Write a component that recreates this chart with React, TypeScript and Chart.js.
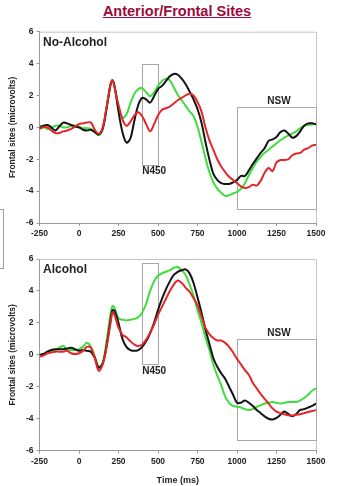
import React, { useEffect, useRef } from "react";
import { Chart, registerables } from "chart.js";

Chart.register(...registerables);

// ---- data ----
const timesMs = [
  -250, -225, -200, -175, -150, -125, -100, -75, -50, -25, 0, 25, 50, 75, 100, 125, 150, 175, 200, 212,
  225, 250, 275, 300, 325, 350, 375, 400, 425, 450, 475, 500, 525, 550, 575, 600, 625, 650, 675, 700,
  725, 750, 775, 800, 825, 850, 875, 900, 925, 950, 975, 1000, 1025, 1050, 1075, 1100, 1125, 1150, 1175, 1200,
  1225, 1250, 1275, 1300, 1325, 1350, 1375, 1400, 1425, 1450, 1475, 1500,
];

const noAlcoholBlack = [
  -0.05, 0.1, 0.15, 0.0, -0.2, 0.05, 0.3, 0.25, 0.15, 0.05, 0.0, -0.15, -0.2, -0.15, -0.3, -0.45, -0.1, 1.2, 2.7, 2.95,
  2.6, 1.0, -0.3, -0.95, -0.7, 0.4, 1.4, 1.85, 1.75, 1.55, 1.95, 2.4, 2.6, 2.9, 3.2, 3.35, 3.3, 3.05, 2.7, 2.25,
  1.75, 1.15, 0.3, -0.9, -2.0, -2.9, -3.3, -3.5, -3.55, -3.55, -3.45, -3.3, -3.05, -3.05, -2.7, -2.3, -1.95, -1.6, -1.3, -0.85,
  -0.75, -0.6, -0.3, -0.2, -0.4, -0.65, -0.55, -0.25, 0.1, 0.25, 0.25, 0.2,
];
const noAlcoholGreen = [
  0.1, 0.05, -0.1, -0.05, 0.1, 0.1, 0.0, 0.0, 0.1, 0.1, 0.05, -0.05, -0.05, -0.1, -0.3, -0.5, -0.05, 1.3, 2.7, 2.95,
  2.5, 1.3, 0.6, 0.8, 1.5, 2.1, 2.4, 2.45, 2.2, 1.95, 2.2, 2.6, 2.9, 3.05, 2.95, 2.5, 2.05, 1.7, 1.35, 1.0,
  0.7, 0.05, -0.9, -1.9, -2.8, -3.45, -3.85, -4.1, -4.3, -4.25, -4.15, -4.05, -3.85, -3.5, -3.0, -2.55, -2.15, -1.85, -1.6, -1.4,
  -1.2, -1.0, -0.8, -0.65, -0.5, -0.4, -0.25, -0.05, 0.1, 0.15, 0.2, 0.2,
];
const noAlcoholRed = [
  -0.1, 0.0, 0.0, -0.2, -0.35, -0.35, -0.25, -0.2, -0.1, 0.05, 0.2, 0.25, 0.3, 0.3, -0.15, -0.4, 0.0, 1.3, 2.7, 2.95,
  2.5, 1.4, 0.5, 0.1, 0.35, 0.75, 0.95, 0.7, 0.2, -0.25, 0.2, 0.75, 1.1, 1.2, 1.3, 1.5, 1.7, 1.85, 2.0, 2.1,
  2.0, 1.6, 1.0, 0.0, -0.8, -1.4, -2.0, -2.45, -2.8, -3.1, -3.3, -3.5, -3.7, -3.8, -3.75, -3.6, -3.65, -3.35, -2.85, -2.55,
  -2.75, -2.2, -2.05, -2.05, -2.0, -1.75, -1.65, -1.6, -1.4, -1.3, -1.15, -1.1,
];

const alcoholBlack = [
  0.0, 0.05, 0.2, 0.3, 0.35, 0.35, 0.35, 0.4, 0.45, 0.35, 0.25, 0.3, 0.25, 0.2, -0.2, -0.8, -0.55, 0.6, 2.2, 2.8,
  2.75, 2.0, 1.0, 0.5, 0.3, 0.25, 0.3, 0.5, 0.85, 1.35, 2.0, 2.8, 3.5, 4.1, 4.6, 5.0, 5.2, 5.3, 5.35, 5.1,
  4.5, 3.6, 2.65, 1.6, 0.7, -0.2, -0.75, -1.15, -1.5, -2.0, -2.5, -3.0, -3.0, -2.85, -3.0, -3.2, -3.45, -3.65, -3.85, -4.0,
  -4.05, -3.95, -3.75, -3.55, -3.7, -3.85, -3.7, -3.45, -3.4, -3.3, -3.2, -3.05,
];
const alcoholGreen = [
  0.0, 0.05, 0.2, 0.25, 0.3, 0.45, 0.55, 0.35, 0.3, 0.3, 0.35, 0.5, 0.75, 0.5, -0.1, -0.75, -0.5, 0.9, 2.6, 3.05,
  2.95, 2.3, 2.2, 2.15, 2.2, 2.25, 2.35, 2.65, 3.2, 4.0, 4.6, 4.95, 5.1, 5.2, 5.3, 5.45, 5.5, 5.3, 5.0, 4.4,
  3.7, 2.8, 2.0, 1.1, 0.3, -0.6, -1.3, -1.9, -2.6, -3.0, -3.2, -3.25, -3.3, -3.4, -3.45, -3.4, -3.25, -3.15, -3.05, -3.0,
  -2.95, -3.0, -3.05, -3.0, -2.95, -2.95, -2.95, -2.85, -2.7, -2.5, -2.25, -2.1,
];
const alcoholRed = [
  -0.1, -0.05, 0.1, 0.15, 0.2, 0.2, 0.2, 0.25, 0.1, 0.05, 0.1, 0.25, 0.5, 0.45, -0.2, -1.0, -0.6, 0.5, 2.0, 2.65,
  2.5, 1.7, 1.25, 1.1, 0.85, 0.65, 0.55, 0.65, 0.95, 1.4, 1.9, 2.5, 3.0, 3.5, 4.0, 4.4, 4.65, 4.5, 4.2, 3.95,
  3.55, 3.1, 2.4, 1.7, 1.3, 1.05, 0.9, 0.9, 0.75, 0.5, 0.15, -0.25, -0.6, -0.95, -1.25, -1.75, -2.1, -2.45, -2.75, -3.05,
  -3.35, -3.55, -3.65, -3.72, -3.78, -3.8, -3.75, -3.72, -3.65, -3.58, -3.52, -3.45,
];

const xTickValues = [-250, 0, 250, 500, 750, 1000, 1250, 1500];
const yTickValues = [-6, -4, -2, 0, 2, 4, 6];

// analysis windows [startMs, endMs] and vertical extents [low, high] in microvolts
const n450Window = [400, 500];
const nswWindow = [1000, 1500];
const noAlcoholN450Extent = [-2.33, 4.0];
const noAlcoholNswExtent = [-5.14, 1.27];
const alcoholN450Extent = [-0.57, 5.77];
const alcoholNswExtent = [-5.33, 1.0];

// ---- styles ----
const FONT = "'Liberation Sans', Arial, Helvetica, sans-serif";
const BLACK = "#141414";
const GREEN = "#3fdc3f";
const RED = "#e4262b";
const AXIS = "#9a9a9a";
const FRAME = "#c4c4c4";
const BOX = "#a8a8a8";
const TEXT = "#222222";

type PanelSpec = {
  name: string;
  black: number[];
  green: number[];
  red: number[];
  n450Extent: number[];
  nswExtent: number[];
  padTop: number;
  padBottom: number;
  xAxisHeight: number;
  showXTitle: boolean;
};

const overlayPlugin = (spec: PanelSpec) => ({
  id: "erpOverlay",
  beforeDatasetsDraw(chart: any) {
    const { ctx, chartArea, scales } = chart;
    const xs = scales.x;
    const ys = scales.y;
    ctx.save();
    ctx.strokeStyle = FRAME;
    ctx.lineWidth = 1;
    ctx.beginPath();
    ctx.moveTo(chartArea.left, chartArea.top + 0.5);
    ctx.lineTo(chartArea.right + 0.5, chartArea.top + 0.5);
    ctx.lineTo(chartArea.right + 0.5, chartArea.bottom);
    ctx.stroke();
    ctx.strokeStyle = BOX;
    const drawBox = (win: number[], ext: number[]) => {
      const x1 = xs.getPixelForValue(win[0]);
      const x2 = xs.getPixelForValue(win[1]);
      const y1 = ys.getPixelForValue(ext[1]);
      const y2 = ys.getPixelForValue(ext[0]);
      ctx.strokeRect(Math.round(x1) + 0.5, Math.round(y1) + 0.5, Math.round(x2 - x1), Math.round(y2 - y1));
    };
    drawBox(n450Window, spec.n450Extent);
    drawBox(nswWindow, spec.nswExtent);
    ctx.restore();
  },
  afterDatasetsDraw(chart: any) {
    const { ctx, chartArea, scales } = chart;
    const xs = scales.x;
    const ys = scales.y;
    ctx.save();
    ctx.fillStyle = TEXT;
    ctx.font = `bold 12px ${FONT}`;
    ctx.textAlign = "left";
    ctx.textBaseline = "middle";
    ctx.fillText(spec.name, chartArea.left + 3.5, chartArea.top + 10.5);

    ctx.font = `bold 10px ${FONT}`;
    ctx.textAlign = "left";
    ctx.textBaseline = "top";
    ctx.fillText("N450", xs.getPixelForValue(n450Window[0]), ys.getPixelForValue(spec.n450Extent[0]) + 2);
    ctx.textAlign = "center";
    ctx.textBaseline = "bottom";
    const nswMid = (nswWindow[0] + nswWindow[1]) / 2;
    ctx.fillText("NSW", xs.getPixelForValue(nswMid) + 2.5, ys.getPixelForValue(spec.nswExtent[1]) - 1);
    ctx.restore();
  },
});

function makeChart(canvas: HTMLCanvasElement, spec: PanelSpec) {
  const series = (vals: number[]) => timesMs.map((t, i) => ({ x: t, y: vals[i] }));
  const line = (vals: number[], color: string) => ({
    data: series(vals),
    borderColor: color,
    backgroundColor: color,
    borderWidth: 2,
    pointRadius: 0,
    fill: false,
    tension: 0.35,
  });
  return new Chart(canvas, {
    type: "line",
    data: {
      datasets: [line(spec.red, RED), line(spec.black, BLACK), line(spec.green, GREEN)],
    },
    options: {
      responsive: false,
      animation: false,
      events: [],
      layout: { padding: { left: 0, right: 38, top: spec.padTop, bottom: spec.padBottom } },
      plugins: {
        legend: { display: false },
        tooltip: { enabled: false },
        title: { display: false },
      },
      scales: {
        x: {
          type: "linear",
          min: -250,
          max: 1500,
          afterBuildTicks: (s: any) => {
            s.ticks = xTickValues.map((v) => ({ value: v }));
          },
          afterFit: (s: any) => {
            s.height = spec.xAxisHeight;
          },
          grid: { drawOnChartArea: false, tickLength: 3, color: AXIS },
          border: { color: AXIS, width: 1 },
          ticks: {
            color: TEXT,
            font: { family: FONT, size: 8.5, weight: "bold" },
            padding: 3,
            maxRotation: 0,
            autoSkip: false,
            callback: (v: any) => String(v),
          },
          title: {
            display: spec.showXTitle,
            text: "Time (ms)",
            color: TEXT,
            font: { family: FONT, size: 9, weight: "bold" },
            padding: { top: 0, bottom: 0 },
          },
        },
        y: {
          min: -6,
          max: 6,
          afterBuildTicks: (s: any) => {
            s.ticks = yTickValues.map((v) => ({ value: v }));
          },
          afterFit: (s: any) => {
            s.width = 39.5;
          },
          grid: { drawOnChartArea: false, tickLength: 3, color: AXIS },
          border: { color: AXIS, width: 1 },
          ticks: {
            color: TEXT,
            font: { family: FONT, size: 8.5, weight: "bold" },
            padding: 3,
            autoSkip: false,
            callback: (v: any) => String(v),
          },
          title: {
            display: true,
            text: "Frontal sites (microvolts)",
            color: TEXT,
            font: { family: FONT, size: 8.5, weight: "bold" },
            padding: { top: 8, bottom: 0 },
          },
        },
      },
    } as any,
    plugins: [overlayPlugin(spec)],
  });
}

const noAlcoholSpec: PanelSpec = {
  name: "No-Alcohol",
  black: noAlcoholBlack,
  green: noAlcoholGreen,
  red: noAlcoholRed,
  n450Extent: noAlcoholN450Extent,
  nswExtent: noAlcoholNswExtent,
  padTop: 31.7,
  padBottom: 243,
  xAxisHeight: 20,
  showXTitle: false,
};

const alcoholSpec: PanelSpec = {
  name: "Alcohol",
  black: alcoholBlack,
  green: alcoholGreen,
  red: alcoholRed,
  n450Extent: alcoholN450Extent,
  nswExtent: alcoholNswExtent,
  padTop: 259,
  padBottom: 0,
  xAxisHeight: 35.3,
  showXTitle: true,
};

export default function App() {
  const topRef = useRef<HTMLCanvasElement>(null);
  const bottomRef = useRef<HTMLCanvasElement>(null);

  useEffect(() => {
    const c1 = makeChart(topRef.current!, noAlcoholSpec);
    const c2 = makeChart(bottomRef.current!, alcoholSpec);
    return () => {
      c1.destroy();
      c2.destroy();
    };
  }, []);

  const canvasStyle: React.CSSProperties = { position: "absolute", left: 0, top: 0, width: 354, height: 486 };

  return (
    <div style={{ position: "fixed", left: 0, top: 0, width: 354, height: 486, background: "#fff", overflow: "hidden" }}>
      <div
        style={{
          position: "absolute",
          left: 0,
          top: 3,
          width: 354,
          textAlign: "center",
          fontFamily: FONT,
          fontWeight: "bold",
          fontSize: 14.5,
          lineHeight: "17px",
          color: "#9a0b3b",
          textDecoration: "underline",
        }}
      >
        Anterior/Frontal Sites
      </div>
      <div
        style={{
          position: "absolute",
          left: -10,
          top: 209,
          width: 12,
          height: 58,
          border: "1px solid #a0a0a0",
        }}
      />
      <canvas ref={topRef} width={354} height={486} style={canvasStyle} />
      <canvas ref={bottomRef} width={354} height={486} style={canvasStyle} />
    </div>
  );
}
